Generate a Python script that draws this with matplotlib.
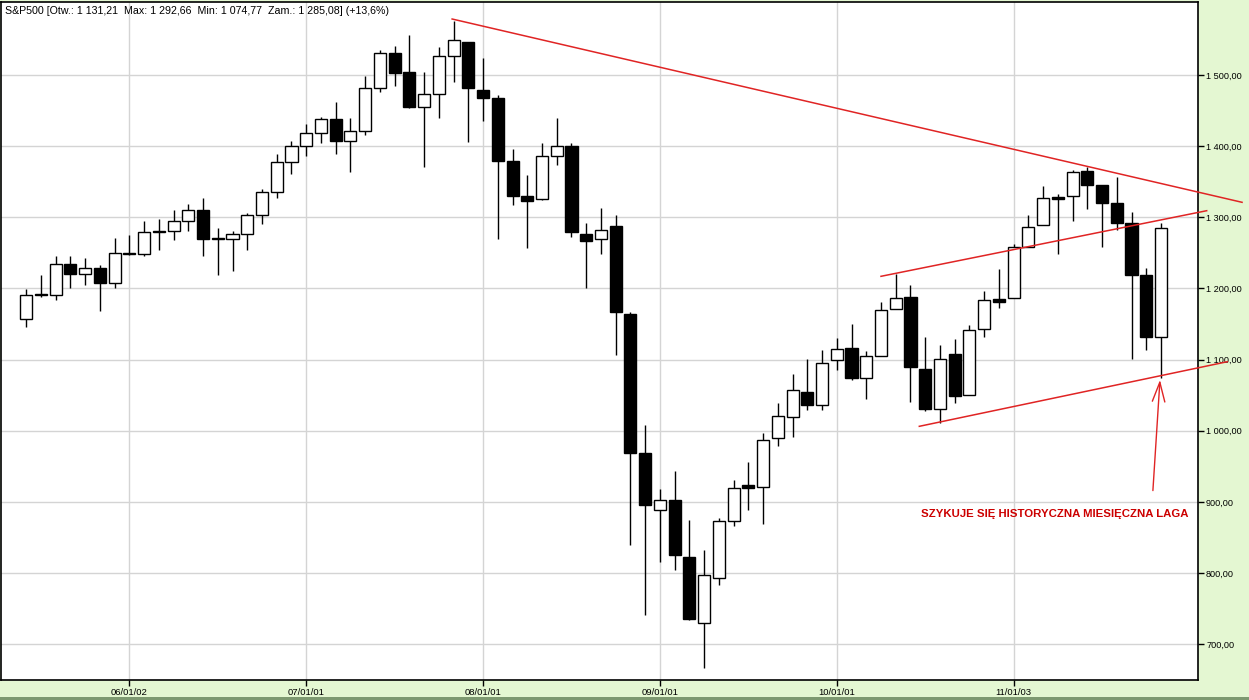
import matplotlib

matplotlib.use("Agg")
import matplotlib.pyplot as plt
from matplotlib.patches import Rectangle
import pandas as pd

# monthly S&P500 candles, May 2005 .. Oct 2011
opens = [1156.85, 1191.50, 1191.33, 1234.18, 1220.33, 1228.81, 1207.01, 1249.48,
         1248.29, 1280.08, 1280.66, 1294.83, 1310.61, 1270.09, 1270.20, 1276.66,
         1303.82, 1335.85, 1377.94, 1400.63,
         1418.03, 1437.90, 1406.80, 1420.83, 1482.37, 1530.62, 1504.66, 1455.18,
         1473.96, 1527.29, 1545.79, 1479.63,
         1467.97, 1378.60, 1330.45, 1326.41, 1385.97, 1399.62, 1276.69, 1269.42,
         1287.83, 1164.17, 968.67, 888.61,
         902.99, 823.09, 729.57, 793.59, 872.74, 923.26, 920.82, 990.22,
         1019.52, 1054.91, 1036.18, 1098.89,
         1116.56, 1073.89, 1105.36, 1171.23, 1188.58, 1087.30, 1031.10, 1107.53,
         1049.72, 1143.49, 1185.71, 1186.60,
         1257.62, 1289.14, 1328.64, 1329.48, 1365.21, 1345.20, 1320.64, 1292.59,
         1219.12, 1131.21]
highs = [1199.56, 1219.59, 1245.15, 1245.86, 1243.13, 1233.34, 1270.64, 1275.80,
         1294.90, 1297.57, 1310.88, 1318.16, 1326.70, 1284.38, 1280.42, 1306.74,
         1340.28, 1389.45, 1407.89, 1431.81,
         1441.61, 1461.57, 1438.89, 1498.02, 1535.56, 1540.56, 1555.90, 1503.89,
         1538.74, 1576.09, 1545.79, 1523.57,
         1471.77, 1396.02, 1359.68, 1404.05, 1440.24, 1404.05, 1292.17, 1313.15,
         1303.04, 1167.03, 1007.51, 918.85,
         943.85, 875.01, 832.98, 877.52, 930.17, 956.23, 996.68, 1039.47,
         1080.15, 1101.36, 1113.69, 1130.38,
         1150.45, 1112.42, 1180.69, 1219.80, 1205.13, 1131.23, 1120.95, 1129.24,
         1148.90, 1196.14, 1227.08, 1262.60,
         1302.67, 1344.07, 1332.28, 1366.60, 1370.58, 1345.20, 1356.48, 1307.38,
         1229.29, 1292.66]
lows = [1146.18, 1188.30, 1183.55, 1201.07, 1205.35, 1168.20, 1201.07, 1246.59,
        1245.74, 1253.61, 1268.42, 1280.74, 1245.34, 1219.29, 1224.54, 1253.41,
        1290.93, 1327.10, 1360.98, 1385.93,
        1403.97, 1389.42, 1363.98, 1416.37, 1476.70, 1484.18, 1454.25, 1370.60,
        1439.64, 1489.56, 1406.10, 1435.65,
        1270.05, 1316.75, 1256.98, 1324.35, 1373.07, 1272.00, 1200.44, 1248.64,
        1106.42, 839.80, 741.02, 815.69,
        804.22, 734.52, 666.79, 783.32, 866.10, 888.86, 869.32, 978.51,
        991.97, 1029.38, 1029.38, 1085.89,
        1071.59, 1044.50, 1105.36, 1170.69, 1040.78, 1028.33, 1010.91, 1039.70,
        1049.72, 1131.87, 1173.00, 1186.60,
        1257.62, 1289.14, 1249.05, 1294.81, 1311.80, 1258.07, 1282.86, 1101.54,
        1114.22, 1074.77]
closes = [1191.50, 1191.33, 1234.18, 1220.33, 1228.81, 1207.01, 1249.48, 1248.29,
          1280.08, 1280.66, 1294.83, 1310.61, 1270.09, 1270.20, 1276.66, 1303.82,
          1335.85, 1377.94, 1400.63, 1418.30,
          1438.24, 1406.82, 1420.86, 1482.37, 1530.62, 1503.35, 1455.27, 1473.99,
          1526.75, 1549.38, 1481.14, 1468.36,
          1378.55, 1330.63, 1322.70, 1385.59, 1400.38, 1280.00, 1267.38, 1282.83,
          1166.36, 968.75, 896.24, 903.25,
          825.88, 735.09, 797.87, 872.81, 919.14, 919.32, 987.48, 1020.62,
          1057.08, 1036.19, 1095.63, 1115.10,
          1073.87, 1104.49, 1169.43, 1186.69, 1089.41, 1030.71, 1101.60, 1049.33,
          1141.20, 1183.26, 1180.55, 1257.64,
          1286.12, 1327.22, 1325.83, 1363.61, 1345.20, 1320.64, 1292.28, 1218.89,
          1131.42, 1285.08]
months = pd.period_range("2005-05", periods=len(closes), freq="M")

x_labels = ["06/01/02", "07/01/01", "08/01/01", "09/01/01", "10/01/01", "11/01/03"]
y_ticks = [700, 800, 900, 1000, 1100, 1200, 1300, 1400, 1500]

title = "S&P500 [Otw.: 1 131,21  Max: 1 292,66  Min: 1 074,77  Zam.: 1 285,08] (+13,6%)"
note = "SZYKUJE SIĘ HISTORYCZNA MIESIĘCZNA LAGA"

# hand-drawn trend lines: (month index, price) pairs
trend_lines = [
    [(28.9, 1578.7), (82.5, 1321.1)],
    [(58.0, 1217.1), (80.1, 1309.3)],
    [(60.6, 1006.3), (81.5, 1097.1)],
]
arrow_tail = (76.45, 916.0)
arrow_tip = (76.93, 1071.5)
note_pos = (69.8, 883.0)

RED = "#e02424"
BG = "#e4f7d2"

plt.rcParams["font.family"] = ["Liberation Sans", "DejaVu Sans"]

fig = plt.figure(figsize=(12.49, 7.0), dpi=100, facecolor=BG)
ax = fig.add_axes([1 / 1249, 20 / 700, 1196.7 / 1249, 678 / 700])
ax.set_facecolor("white")

for i, (o, h, l, c) in enumerate(zip(opens, highs, lows, closes)):
    ax.vlines(i, l, h, color="black", lw=1.0, zorder=2)
    body = max(abs(c - o), 0.8)
    ax.add_patch(Rectangle((i - 0.41, min(o, c)), 0.82, body,
                           facecolor="black" if c < o else "white",
                           edgecolor="black", lw=1.0, zorder=3))

ax.set_xlim(-1.71, 79.49)
ax.set_ylim(649.8, 1602.6)

# gridline for each year label sits on the December candle of the previous year
xt = [list(months).index(pd.Period(f"20{lab[:2]}-01", "M") - 1) for lab in x_labels]
ax.set_xticks(xt)
ax.set_xticklabels(x_labels, fontsize=6.8)
ax.yaxis.tick_right()
ax.set_yticks(y_ticks)
ax.set_yticklabels([f"{v:,.2f}".replace(",", " ").replace(".", ",") for v in y_ticks],
                   fontsize=6.6)
ax.tick_params(axis="both", length=4, width=1, pad=2, colors="black")
ax.grid(True, color="#d4d4d4", lw=1.0)
ax.set_axisbelow(True)
for s in ax.spines.values():
    s.set_linewidth(1.2)
    s.set_color("black")

for (x0, y0), (x1, y1) in trend_lines:
    ax.plot([x0, x1], [y0, y1], color=RED, lw=1.1, clip_on=False, zorder=4)

ax.annotate("", xy=arrow_tip, xytext=arrow_tail, annotation_clip=False,
            arrowprops=dict(arrowstyle="->,head_length=1.4,head_width=0.45",
                            color=RED, lw=1.0, shrinkA=0, shrinkB=0), zorder=4)
ax.text(*note_pos, note, color="#cc0000", fontsize=8.2, fontweight="bold",
        ha="center", va="center", zorder=5)

fig.text(5 / 1249, 1 - 11 / 700, title, fontsize=7.7, ha="left", va="center")

# dark strip along the bottom edge
fig.patches.append(Rectangle((0, 0), 1, 3 / 700, transform=fig.transFigure,
                             facecolor="#7d9970", edgecolor="none"))

fig.savefig("out.png", dpi=100, facecolor=BG)
